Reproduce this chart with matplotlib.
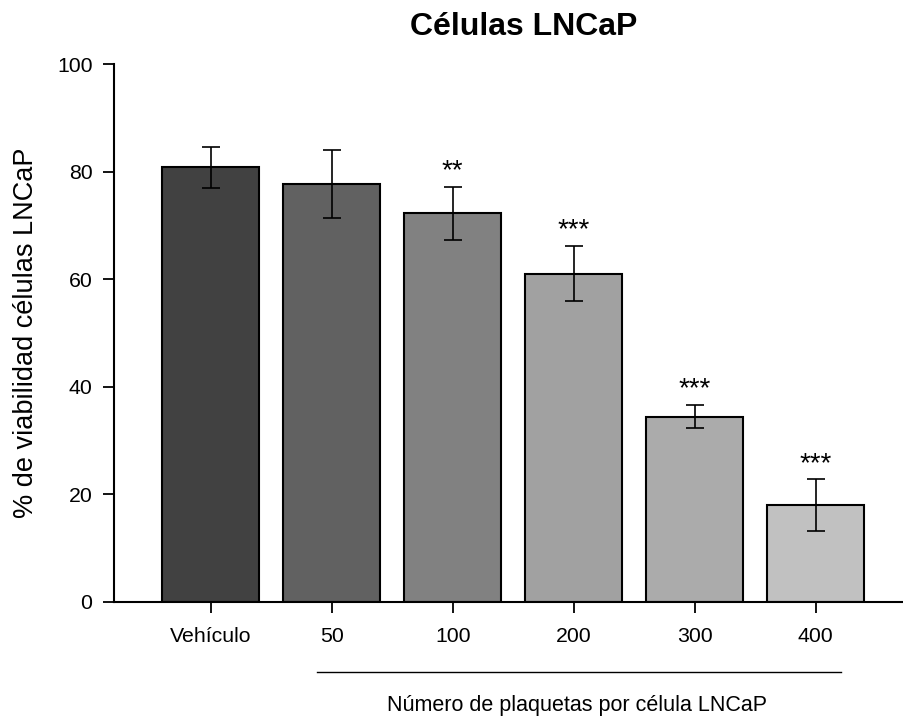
import matplotlib
matplotlib.use('Agg')
import matplotlib.pyplot as plt

plt.rcParams['font.family'] = ['Liberation Sans', 'DejaVu Sans']

categorias = ['Vehículo', '50', '100', '200', '300', '400']
viabilidad = [80.8, 77.7, 72.2, 61.0, 34.4, 17.9]
error = [3.8, 6.3, 5.0, 5.1, 2.2, 4.8]
signif = ['', '', '**', '***', '***', '***']
colores = ['#414141', '#616161', '#818181', '#a1a1a1', '#ababab', '#c1c1c1']

fig = plt.figure(figsize=(9.04, 7.19), dpi=100)
ax = fig.add_axes([114 / 904, (719 - 601.5) / 719, 1 - 114 / 904, (601.5 - 64) / 719])

x = list(range(len(categorias)))
ax.bar(x, viabilidad, width=0.8, color=colores, edgecolor='black', linewidth=1.5, zorder=2)
ax.errorbar(x, viabilidad, yerr=error, fmt='none', ecolor='black', elinewidth=1.2,
            capsize=6.5, capthick=1.2, zorder=3)

for xi, v, e, s in zip(x, viabilidad, error, signif):
    if s:
        ax.text(xi, v + e + 1.6, s, ha='center', va='baseline', fontsize=20)

ax.set_xlim(-0.8, 5.73)
ax.set_ylim(0, 100)
ax.set_yticks([0, 20, 40, 60, 80, 100])
ax.set_xticks(x)
ax.set_xticklabels(categorias)
ax.tick_params(axis='both', labelsize=15.3, length=8, width=1.3, direction='out')
ax.tick_params(axis='x', pad=10.5)
ax.tick_params(axis='y', pad=7.5)
for side in ['top', 'right']:
    ax.spines[side].set_visible(False)
for side in ['left', 'bottom']:
    ax.spines[side].set_linewidth(1.5)

ax.set_ylabel('% de viabilidad células LNCaP', fontsize=19.5, labelpad=0)
ax.yaxis.set_label_coords(-0.095, 0.5)
ax.set_title('Células LNCaP', fontsize=23, fontweight='bold', pad=21, x=0.518)

# linea bajo las dosis de plaquetas
ax.plot([0.876, 5.21], [-13.1, -13.1], color='black', linewidth=1.0, clip_on=False)
ax.text(3.03, -20.3, 'Número de plaquetas por célula LNCaP', ha='center', va='baseline',
        fontsize=15.5)

fig.savefig('out.png', dpi=100)
